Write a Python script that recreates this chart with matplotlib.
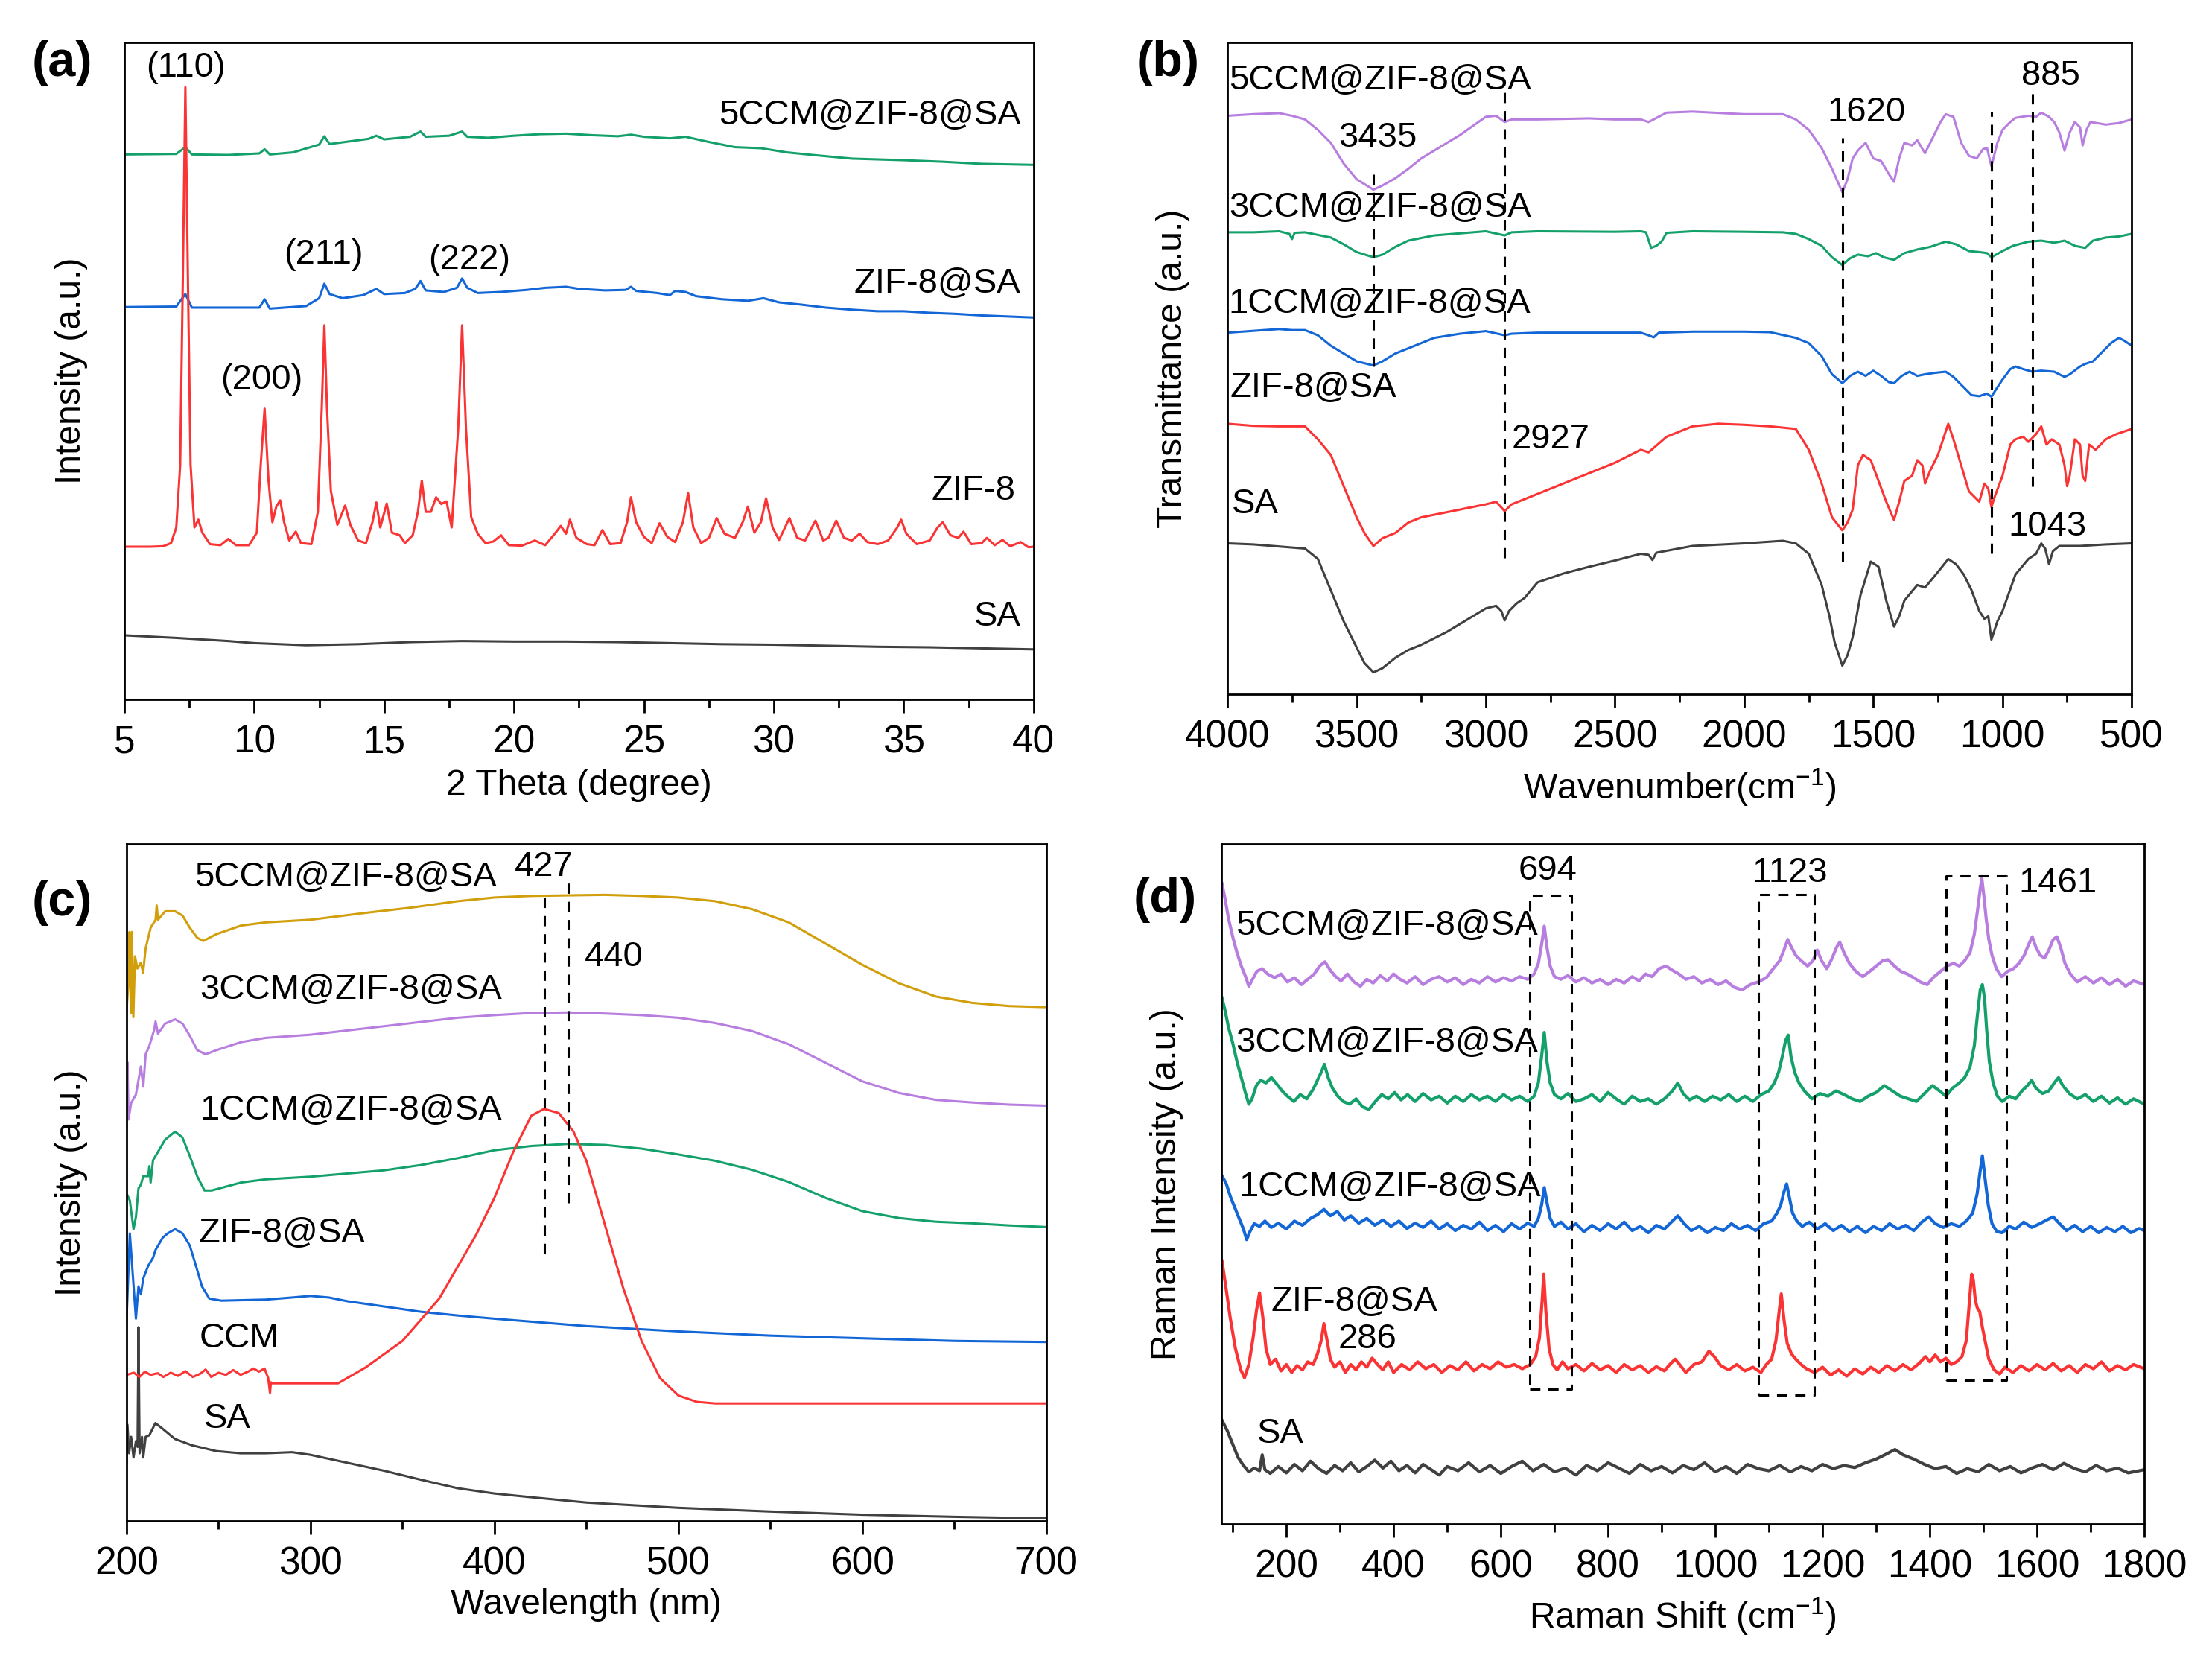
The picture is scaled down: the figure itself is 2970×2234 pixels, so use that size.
import matplotlib

matplotlib.use("Agg")
import matplotlib.pyplot as plt
import numpy as np
from matplotlib.ticker import MultipleLocator

plt.rcParams["font.family"] = ["Liberation Sans", "DejaVu Sans"]
plt.rcParams["mathtext.fontset"] = "custom"
plt.rcParams["mathtext.rm"] = "Liberation Sans"
plt.rcParams["mathtext.default"] = "regular"

BLACK = "#404040"
RED = "#fa3434"
BLUE = "#1366d6"
GREEN = "#14a06a"
PURPLE = "#b77ddf"
GOLD = "#d19e0c"

# ---------------- (a) XRD: (2theta, intensity a.u.) ----------------
xrd_sa = [(5, 123), (7, 118), (9, 112), (10, 108), (12, 104), (14, 106), (16, 110),
          (18, 112), (20, 111), (22, 111), (24, 110), (26, 108), (28, 106), (30, 105),
          (32, 103), (34, 101), (36, 100), (38, 98), (40, 96)]
xrd_zif8 = [(5.0, 293), (6.0, 293), (6.5, 294), (6.8, 300), (7.0, 330), (7.15, 450),
            (7.25, 800), (7.35, 1175), (7.45, 800), (7.55, 450), (7.7, 330), (7.85, 345),
            (8.0, 320), (8.3, 298), (8.7, 296), (9.0, 308), (9.3, 296), (9.8, 296),
            (10.1, 320), (10.25, 450), (10.4, 558), (10.55, 420), (10.7, 340), (10.85, 370),
            (11.0, 382), (11.15, 340), (11.35, 305), (11.6, 322), (11.8, 300), (12.2, 298),
            (12.45, 360), (12.6, 560), (12.7, 718), (12.8, 560), (12.95, 400), (13.2, 335),
            (13.5, 372), (13.7, 335), (14.0, 305), (14.3, 300), (14.55, 340), (14.7, 378),
            (14.85, 330), (15.1, 376), (15.3, 320), (15.6, 315), (15.8, 300), (16.1, 315),
            (16.3, 360), (16.45, 420), (16.6, 360), (16.8, 360), (17.0, 388), (17.2, 375),
            (17.4, 380), (17.6, 330), (17.85, 520), (18.0, 718), (18.15, 520), (18.35, 350),
            (18.6, 318), (18.9, 300), (19.2, 303), (19.5, 315), (19.8, 296), (20.3, 295),
            (20.8, 305), (21.2, 296), (21.6, 320), (21.8, 333), (22.0, 318), (22.15, 345),
            (22.4, 310), (22.8, 298), (23.1, 296), (23.4, 325), (23.7, 298), (24.1, 300),
            (24.35, 340), (24.5, 388), (24.7, 340), (25.0, 312), (25.3, 300), (25.6, 338),
            (25.9, 312), (26.2, 302), (26.5, 340), (26.7, 396), (26.9, 330), (27.2, 300),
            (27.5, 310), (27.8, 348), (28.1, 318), (28.5, 310), (28.8, 340), (29.0, 370),
            (29.25, 320), (29.5, 340), (29.7, 386), (29.95, 330), (30.2, 306), (30.6, 348),
            (30.9, 310), (31.2, 305), (31.6, 343), (31.9, 305), (32.1, 310), (32.4, 343),
            (32.7, 310), (33.0, 305), (33.3, 318), (33.6, 302), (34.0, 298), (34.4, 305),
            (34.75, 330), (34.9, 345), (35.1, 318), (35.5, 298), (36.0, 305), (36.3, 330),
            (36.5, 340), (36.8, 315), (37.1, 310), (37.3, 322), (37.6, 298), (38.0, 300),
            (38.2, 310), (38.5, 296), (38.8, 306), (39.1, 294), (39.5, 302), (39.8, 292),
            (40.0, 293)]
xrd_zif8_sa = [(5, 753), (7.0, 754), (7.35, 778), (7.6, 752), (10.2, 752), (10.4, 768),
               (10.6, 750), (12.0, 755), (12.5, 770), (12.7, 798), (12.9, 778), (13.4, 770),
               (14.2, 776), (14.7, 788), (15.0, 778), (15.8, 780), (16.2, 788), (16.4, 803),
               (16.6, 785), (17.3, 782), (17.8, 790), (18.0, 808), (18.2, 790), (18.6, 780),
               (19.5, 782), (20.5, 786), (21.2, 790), (22.0, 792), (22.5, 788), (23.5, 785),
               (24.3, 786), (24.5, 792), (24.7, 784), (25.5, 780), (26.0, 776), (26.2, 784),
               (26.6, 782), (27.0, 774), (28.0, 768), (29.0, 765), (29.6, 770), (30.2, 762),
               (31.0, 758), (32.0, 752), (33.0, 748), (34.0, 745), (35.0, 745), (36.0, 742),
               (37.0, 740), (38.0, 737), (39.0, 735), (40.0, 733)]
xrd_5ccm = [(5, 1046), (7.0, 1047), (7.35, 1060), (7.6, 1046), (9, 1045), (10.2, 1048),
            (10.4, 1056), (10.6, 1046), (11.5, 1050), (12.5, 1065), (12.7, 1081), (12.9, 1066),
            (13.5, 1070), (14.4, 1076), (14.7, 1082), (15.0, 1075), (16.0, 1080), (16.4, 1090),
            (16.6, 1080), (17.5, 1082), (18.0, 1090), (18.2, 1080), (19.0, 1078), (20.0, 1082),
            (21.0, 1085), (22.0, 1086), (23.0, 1083), (24.0, 1081), (24.5, 1084), (25.0, 1080),
            (26.0, 1077), (26.6, 1080), (27.5, 1070), (28.5, 1060), (29.5, 1058), (30.5, 1050),
            (31.5, 1045), (33, 1038), (35, 1035), (36.5, 1032), (38, 1028), (40, 1026)]

# ---------------- (b) FTIR: (wavenumber, transmittance a.u.) ----------------
ir_sa = [(4000, 290), (3900, 288), (3800, 284), (3700, 280), (3650, 260), (3600, 200),
         (3550, 140), (3500, 90), (3470, 60), (3435, 42), (3400, 50), (3350, 70), (3300, 85),
         (3250, 95), (3150, 120), (3100, 135), (3000, 165), (2960, 170), (2940, 160),
         (2927, 142), (2910, 160), (2880, 175), (2850, 185), (2800, 215), (2700, 232),
         (2600, 245), (2500, 257), (2400, 270), (2370, 268), (2355, 258), (2340, 272),
         (2200, 285), (2000, 290), (1850, 295), (1800, 290), (1750, 270), (1700, 210),
         (1670, 150), (1650, 100), (1620, 55), (1600, 75), (1580, 110), (1550, 190),
         (1510, 255), (1480, 245), (1450, 180), (1420, 130), (1400, 150), (1380, 180),
         (1330, 210), (1300, 205), (1250, 235), (1210, 260), (1180, 250), (1150, 230),
         (1120, 200), (1090, 160), (1070, 145), (1055, 150), (1043, 105), (1020, 140),
         (1000, 160), (950, 230), (900, 260), (870, 270), (850, 290), (835, 280), (820, 250),
         (805, 275), (780, 285), (700, 285), (600, 288), (500, 290)]
ir_zif8_sa = [(4000, 520), (3900, 516), (3800, 515), (3700, 515), (3650, 490), (3600, 460),
              (3550, 400), (3500, 340), (3470, 310), (3435, 285), (3400, 300), (3350, 310),
              (3300, 330), (3250, 340), (3200, 345), (3100, 355), (3000, 365), (2960, 370),
              (2927, 352), (2900, 365), (2850, 375), (2800, 385), (2700, 405), (2600, 425),
              (2500, 445), (2400, 470), (2370, 465), (2300, 495), (2200, 515), (2100, 520),
              (2000, 518), (1900, 515), (1800, 510), (1750, 470), (1700, 405), (1660, 340),
              (1620, 315), (1600, 330), (1580, 355), (1560, 440), (1540, 460), (1510, 450),
              (1480, 410), (1450, 370), (1420, 335), (1400, 370), (1380, 410), (1350, 420),
              (1330, 450), (1310, 440), (1300, 405), (1280, 430), (1250, 460), (1210, 520),
              (1190, 490), (1160, 440), (1130, 390), (1110, 380), (1090, 370), (1070, 405),
              (1055, 395), (1043, 360), (1030, 380), (1000, 420), (970, 480), (950, 490),
              (920, 495), (900, 485), (870, 500), (850, 515), (830, 480), (810, 490),
              (780, 480), (760, 440), (750, 400), (740, 420), (720, 490), (700, 480),
              (690, 420), (680, 410), (665, 480), (640, 470), (600, 490), (560, 500),
              (500, 510)]
ir_1ccm = [(4000, 695), (3800, 702), (3750, 700), (3700, 700), (3650, 690), (3600, 670),
           (3550, 655), (3500, 640), (3435, 632), (3400, 640), (3350, 655), (3300, 665),
           (3200, 685), (3100, 693), (3000, 698), (2927, 690), (2900, 693), (2800, 695),
           (2600, 695), (2400, 695), (2370, 690), (2350, 686), (2330, 695), (2200, 697),
           (2000, 697), (1900, 696), (1800, 685), (1750, 675), (1700, 650), (1660, 615),
           (1620, 598), (1590, 612), (1560, 620), (1530, 612), (1500, 622), (1470, 612),
           (1440, 600), (1420, 598), (1390, 612), (1360, 620), (1330, 612), (1300, 615),
           (1260, 618), (1220, 620), (1190, 610), (1150, 590), (1120, 575), (1090, 573),
           (1060, 578), (1043, 572), (1020, 590), (1000, 605), (970, 625), (950, 630),
           (920, 625), (885, 620), (850, 622), (800, 620), (760, 610), (740, 615), (700, 630),
           (680, 635), (650, 640), (620, 655), (580, 675), (550, 685), (530, 680), (500, 670)]
ir_3ccm = [(4000, 888), (3900, 888), (3800, 890), (3760, 885), (3750, 875), (3740, 887),
           (3700, 888), (3600, 878), (3550, 865), (3500, 850), (3435, 840), (3400, 845),
           (3350, 860), (3300, 872), (3200, 882), (3100, 886), (3000, 890), (2927, 882),
           (2900, 888), (2800, 890), (2500, 889), (2400, 890), (2380, 888), (2360, 858),
           (2340, 862), (2320, 870), (2300, 887), (2200, 890), (2000, 889), (1850, 888),
           (1800, 885), (1750, 875), (1700, 862), (1660, 840), (1620, 825), (1590, 838),
           (1560, 845), (1520, 842), (1490, 848), (1460, 840), (1420, 835), (1380, 848),
           (1330, 855), (1280, 860), (1220, 870), (1180, 865), (1130, 852), (1090, 850),
           (1060, 848), (1043, 840), (1000, 852), (960, 862), (900, 870), (850, 872),
           (800, 868), (760, 872), (720, 862), (680, 858), (650, 872), (600, 878), (550, 880),
           (500, 885)]
ir_5ccm = [(4000, 1112), (3900, 1115), (3800, 1117), (3750, 1112), (3700, 1105), (3650, 1085),
           (3600, 1060), (3550, 1020), (3500, 990), (3435, 970), (3400, 978), (3350, 992),
           (3300, 1010), (3250, 1030), (3150, 1060), (3100, 1075), (3000, 1110), (2960, 1112),
           (2927, 1100), (2900, 1105), (2800, 1105), (2600, 1107), (2500, 1105), (2400, 1105),
           (2370, 1100), (2300, 1118), (2200, 1120), (2000, 1115), (1900, 1115), (1850, 1115),
           (1800, 1105), (1750, 1085), (1700, 1050), (1660, 1010), (1620, 965), (1600, 990),
           (1580, 1030), (1560, 1045), (1530, 1060), (1500, 1030), (1470, 1025), (1440, 1000),
           (1420, 985), (1400, 1030), (1380, 1060), (1350, 1055), (1330, 1065), (1300, 1040),
           (1270, 1070), (1240, 1100), (1220, 1115), (1190, 1110), (1160, 1060), (1130, 1035),
           (1100, 1030), (1075, 1048), (1060, 1050), (1043, 1015), (1020, 1060), (1000, 1085),
           (970, 1100), (950, 1108), (900, 1112), (870, 1110), (850, 1118), (820, 1110),
           (800, 1100), (780, 1080), (760, 1045), (740, 1080), (720, 1100), (700, 1090),
           (690, 1055), (675, 1085), (660, 1100), (600, 1095), (550, 1098), (500, 1105)]
ir_marks = [(3435, 630, 1000), (2927, 262, 1170), (1620, 255, 1070), (1043, 270, 1120),
            (885, 400, 1160)]

# ---------------- (c) UV-Vis: (wavelength, intensity a.u.) ----------------
uv_sa = [(199.6, 66), (200.5, 182), (201.4, 128), (202.5, 159), (203.8, 120), (205.1, 151),
         (206.0, 140), (206.5, 366), (207.1, 128), (208.4, 159), (209.1, 120), (210.4, 159),
         (212.4, 162), (215.7, 185), (219.7, 174), (226.3, 155), (235.6, 143), (248.9, 132),
         (262, 128), (275.5, 128), (290, 130), (300, 125), (320, 110), (340, 95), (360, 78),
         (380, 62), (400, 52), (420, 45), (450, 35), (500, 25), (550, 18), (600, 12),
         (650, 8), (700, 5)]
uv_ccm = [(200, 276), (204, 280), (207, 272), (210, 282), (213, 276), (217, 279), (220, 272),
          (224, 280), (228, 274), (232, 283), (236, 272), (240, 278), (243, 286), (246, 272),
          (250, 280), (254, 276), (258, 285), (262, 276), (266, 282), (269, 288), (272, 282),
          (275, 288), (277, 270), (278, 242), (278.5, 262), (279, 260), (315, 260), (330, 290),
          (350, 340), (370, 420), (390, 540), (400, 610), (410, 695), (420, 765), (427, 778),
          (435, 770), (443, 735), (450, 680), (460, 560), (470, 440), (480, 340), (490, 270),
          (500, 237), (510, 225), (520, 222), (700, 222)]
uv_zif8_sa = [(199.8, 358), (201.8, 543), (203.5, 460), (205.1, 382), (206.5, 443),
              (207.8, 428), (209.1, 458), (211.8, 482), (214.4, 497), (215.8, 512),
              (219.7, 535), (222.4, 543), (226.4, 551), (230.4, 543), (234.4, 520),
              (238.4, 474), (241, 443), (245, 420), (251.6, 416), (275.6, 418), (290, 422),
              (300, 425), (310, 422), (320, 415), (340, 405), (360, 395), (380, 388),
              (400, 382), (450, 368), (500, 358), (550, 350), (600, 345), (650, 340),
              (700, 338)]
uv_1ccm = [(199.8, 620), (201.8, 605), (203.8, 551), (205.1, 574), (206.5, 628), (207.8, 635),
           (209.1, 651), (211.8, 651), (212.4, 670), (213.1, 639), (214.4, 681), (217.1, 697),
           (221.0, 720), (226.4, 735), (230.4, 724), (234.4, 689), (238.4, 651), (242.4, 624),
           (246.3, 624), (262.3, 639), (275.6, 645), (300, 650), (320, 656), (340, 662),
           (360, 672), (380, 685), (400, 700), (420, 708), (440, 712), (460, 710), (480, 703),
           (500, 692), (520, 680), (540, 663), (560, 640), (580, 610), (600, 585), (620, 572),
           (640, 565), (660, 562), (680, 558), (700, 555)]
uv_3ccm = [(199.8, 712), (200.5, 866), (201.1, 758), (202.5, 789), (205.1, 805), (207.8, 858),
           (209.1, 820), (210.4, 881), (212.4, 897), (215.1, 928), (215.8, 943), (217.1, 920),
           (221.0, 939), (226.4, 947), (230.4, 939), (234.4, 916), (238.4, 889), (243.0, 881),
           (249.0, 889), (262.3, 904), (275.6, 912), (300, 918), (330, 930), (355, 940),
           (380, 950), (400, 955), (420, 959), (440, 960), (460, 958), (480, 955), (500, 950),
           (520, 940), (540, 925), (560, 900), (580, 865), (600, 830), (620, 808), (640, 795),
           (660, 790), (680, 786), (700, 784)]
uv_5ccm = [(199.8, 951), (201.1, 1020), (201.6, 1112), (202.4, 958), (202.9, 1112),
           (203.7, 951), (204.6, 1066), (205.9, 1043), (207.8, 1054), (209.0, 1035),
           (210.4, 1081), (213.1, 1120), (215.8, 1135), (216.4, 1162), (217.1, 1135),
           (221.0, 1151), (226.4, 1151), (230.4, 1143), (234.4, 1120), (238.4, 1101),
           (241.7, 1095), (249.0, 1108), (262.3, 1124), (275.6, 1130), (300, 1135),
           (330, 1148), (355, 1158), (380, 1170), (400, 1177), (420, 1180), (440, 1181),
           (460, 1182), (480, 1180), (500, 1177), (520, 1170), (540, 1155), (560, 1130),
           (580, 1090), (600, 1050), (620, 1015), (640, 990), (660, 978), (680, 972),
           (700, 970)]
uv_marks = [(427, 505, 1180), (440, 600, 1205)]

# ---------------- (d) Raman: (shift, intensity a.u.) ----------------
raman_sa = [(80, 195), (90, 175), (100, 150), (110, 125), (120, 110), (130, 98), (140, 105),
            (150, 100), (155, 130), (160, 102), (170, 95), (185, 108), (200, 96), (215, 112),
            (230, 100), (245, 118), (260, 104), (275, 95), (290, 110), (305, 100), (320, 115),
            (335, 98), (350, 108), (365, 120), (380, 105), (395, 118), (410, 100), (425, 110),
            (440, 96), (455, 112), (470, 102), (485, 92), (500, 108), (520, 100), (540, 115),
            (560, 98), (580, 110), (600, 95), (620, 108), (640, 118), (660, 100), (680, 112),
            (700, 98), (720, 105), (740, 92), (760, 110), (780, 100), (800, 115), (820, 105),
            (840, 95), (860, 112), (880, 100), (900, 108), (920, 96), (940, 110), (960, 102),
            (980, 115), (1000, 98), (1020, 108), (1040, 95), (1060, 112), (1080, 104),
            (1100, 100), (1120, 110), (1140, 98), (1160, 108), (1180, 100), (1200, 112),
            (1220, 104), (1240, 110), (1260, 106), (1280, 115), (1300, 122), (1320, 132),
            (1335, 140), (1350, 130), (1370, 122), (1390, 112), (1410, 104), (1430, 108),
            (1450, 95), (1470, 104), (1490, 98), (1510, 112), (1530, 100), (1550, 108),
            (1570, 96), (1590, 105), (1610, 112), (1630, 102), (1650, 114), (1670, 104),
            (1690, 98), (1710, 110), (1730, 100), (1750, 105), (1770, 96), (1800, 102)]
raman_zif8_sa = [(80, 495), (88, 440), (95, 390), (105, 330), (115, 290), (122, 275),
                 (130, 300), (138, 350), (144, 400), (150, 435), (156, 390), (162, 330),
                 (170, 300), (180, 310), (190, 288), (200, 300), (210, 285), (220, 298),
                 (230, 290), (240, 305), (250, 300), (258, 320), (265, 345), (270, 377),
                 (276, 345), (282, 310), (290, 295), (300, 305), (310, 285), (320, 300),
                 (330, 290), (340, 305), (350, 295), (360, 312), (370, 300), (380, 290),
                 (390, 305), (400, 285), (415, 300), (430, 290), (445, 305), (460, 292),
                 (475, 300), (490, 285), (505, 298), (520, 290), (535, 305), (550, 288),
                 (565, 300), (580, 292), (595, 305), (610, 295), (625, 300), (640, 292),
                 (655, 300), (665, 315), (672, 350), (677, 420), (680, 470), (684, 400),
                 (690, 330), (697, 300), (705, 290), (715, 305), (725, 292), (740, 300),
                 (755, 288), (770, 302), (785, 290), (800, 298), (815, 285), (830, 300),
                 (845, 290), (860, 298), (875, 285), (890, 296), (905, 288), (915, 300),
                 (925, 310), (935, 298), (945, 285), (960, 300), (975, 305), (988, 325),
                 (998, 315), (1010, 298), (1025, 290), (1040, 300), (1055, 288), (1070, 295),
                 (1085, 285), (1095, 300), (1105, 310), (1113, 345), (1119, 400), (1123, 433),
                 (1128, 385), (1134, 340), (1142, 320), (1150, 310), (1160, 300), (1170, 292),
                 (1185, 285), (1200, 295), (1215, 280), (1230, 290), (1245, 278), (1260, 292),
                 (1275, 282), (1290, 295), (1305, 285), (1320, 298), (1335, 288), (1350, 300),
                 (1365, 290), (1380, 302), (1392, 315), (1400, 305), (1410, 318), (1420, 305),
                 (1430, 312), (1440, 300), (1450, 305), (1460, 315), (1468, 345), (1474, 420),
                 (1478, 470), (1481, 460), (1485, 420), (1489, 405), (1493, 400), (1498, 370),
                 (1504, 340), (1510, 310), (1520, 290), (1530, 282), (1540, 295), (1555, 285),
                 (1570, 298), (1585, 288), (1600, 300), (1615, 290), (1630, 302), (1645, 288),
                 (1660, 298), (1675, 285), (1690, 300), (1705, 292), (1720, 305), (1735, 288),
                 (1750, 298), (1765, 290), (1780, 300), (1800, 292)]
raman_1ccm = [(80, 655), (88, 640), (96, 615), (104, 595), (112, 575), (120, 555), (126, 535),
              (132, 550), (140, 565), (150, 560), (160, 570), (172, 558), (185, 566), (200, 555),
              (215, 570), (230, 562), (245, 575), (258, 582), (270, 592), (282, 580), (295, 588),
              (308, 572), (320, 580), (335, 566), (350, 575), (365, 562), (380, 572), (395, 560),
              (410, 570), (425, 556), (440, 566), (455, 558), (470, 570), (485, 555), (500, 565),
              (515, 552), (530, 562), (545, 555), (560, 568), (575, 552), (590, 562), (605, 550),
              (620, 565), (635, 555), (650, 566), (662, 560), (670, 575), (676, 600), (681, 633),
              (686, 605), (692, 575), (700, 560), (712, 568), (725, 555), (740, 565), (755, 550),
              (770, 562), (785, 552), (800, 565), (815, 555), (830, 568), (845, 552), (860, 560),
              (875, 548), (890, 562), (905, 555), (918, 568), (930, 580), (942, 565), (955, 552),
              (970, 560), (985, 548), (1000, 558), (1015, 552), (1030, 565), (1045, 555),
              (1060, 562), (1075, 552), (1090, 565), (1105, 570), (1115, 585), (1122, 600),
              (1128, 625), (1133, 640), (1138, 615), (1144, 585), (1152, 570), (1162, 560),
              (1175, 568), (1190, 555), (1205, 565), (1220, 552), (1235, 562), (1250, 550),
              (1265, 560), (1280, 548), (1295, 560), (1310, 552), (1325, 565), (1340, 555),
              (1355, 562), (1370, 552), (1385, 568), (1398, 578), (1410, 565), (1425, 558),
              (1440, 565), (1455, 560), (1468, 570), (1480, 585), (1488, 620), (1494, 665),
              (1498, 693), (1503, 650), (1509, 600), (1516, 565), (1525, 550), (1535, 548),
              (1548, 560), (1560, 555), (1575, 568), (1590, 558), (1605, 565), (1618, 572),
              (1630, 578), (1642, 565), (1655, 552), (1670, 562), (1685, 550), (1700, 560),
              (1715, 548), (1730, 558), (1745, 550), (1760, 560), (1775, 548), (1790, 556),
              (1800, 552)]
raman_3ccm = [(80, 990), (86, 965), (92, 935), (100, 905), (108, 870), (116, 840), (124, 810),
              (130, 790), (136, 800), (144, 825), (152, 835), (162, 830), (172, 840), (182, 828),
              (192, 815), (202, 805), (214, 795), (226, 808), (238, 800), (250, 818), (258, 835),
              (265, 850), (271, 865), (278, 840), (286, 820), (296, 805), (306, 795), (318, 790),
              (330, 800), (342, 785), (354, 780), (366, 795), (378, 808), (390, 800), (402, 812),
              (414, 798), (426, 808), (440, 795), (455, 810), (470, 798), (485, 805), (500, 792),
              (515, 805), (530, 795), (545, 808), (560, 798), (575, 805), (590, 795), (605, 808),
              (620, 798), (635, 805), (650, 795), (662, 805), (670, 830), (676, 880), (681, 925),
              (686, 870), (692, 830), (700, 808), (712, 800), (725, 810), (740, 795), (755, 800),
              (770, 808), (785, 795), (800, 812), (815, 800), (830, 790), (845, 805), (860, 795),
              (875, 800), (890, 790), (905, 800), (920, 815), (930, 830), (940, 810), (952, 798),
              (965, 805), (980, 795), (995, 805), (1010, 798), (1025, 808), (1040, 795),
              (1055, 805), (1070, 795), (1085, 808), (1100, 815), (1110, 830), (1118, 850),
              (1125, 880), (1131, 910), (1136, 920), (1141, 880), (1148, 850), (1156, 830),
              (1166, 815), (1180, 800), (1195, 810), (1210, 805), (1225, 815), (1240, 808),
              (1255, 800), (1270, 795), (1285, 805), (1300, 812), (1315, 825), (1330, 815),
              (1345, 805), (1360, 800), (1375, 795), (1390, 810), (1405, 825), (1418, 815),
              (1430, 805), (1442, 820), (1455, 830), (1465, 840), (1475, 860), (1483, 900),
              (1489, 960), (1494, 1005), (1498, 1015), (1502, 990), (1506, 930), (1511, 870),
              (1518, 830), (1526, 805), (1535, 795), (1548, 805), (1560, 800), (1572, 815),
              (1582, 825), (1590, 835), (1598, 820), (1610, 810), (1622, 815), (1632, 830),
              (1640, 840), (1648, 825), (1660, 810), (1675, 800), (1690, 808), (1705, 795),
              (1720, 805), (1735, 792), (1750, 802), (1765, 790), (1780, 800), (1800, 790)]
raman_5ccm = [(80, 1205), (86, 1175), (92, 1140), (100, 1105), (108, 1075), (116, 1050),
              (124, 1030), (130, 1012), (137, 1025), (145, 1040), (155, 1045), (165, 1035),
              (178, 1028), (190, 1035), (202, 1020), (215, 1028), (228, 1015), (240, 1025),
              (252, 1035), (262, 1050), (272, 1058), (282, 1042), (292, 1030), (302, 1022),
              (314, 1035), (326, 1020), (338, 1012), (350, 1025), (362, 1018), (375, 1032),
              (388, 1022), (400, 1035), (412, 1025), (425, 1018), (440, 1030), (455, 1015),
              (470, 1025), (485, 1030), (500, 1020), (515, 1028), (530, 1015), (545, 1025),
              (560, 1018), (575, 1030), (590, 1020), (605, 1028), (620, 1022), (635, 1030),
              (650, 1025), (662, 1035), (670, 1055), (676, 1090), (681, 1125), (686, 1085),
              (692, 1050), (700, 1030), (712, 1025), (725, 1032), (740, 1020), (755, 1028),
              (770, 1018), (785, 1025), (800, 1015), (815, 1025), (830, 1018), (845, 1030),
              (858, 1022), (870, 1035), (882, 1030), (895, 1045), (908, 1050), (920, 1042),
              (932, 1035), (945, 1025), (960, 1030), (975, 1018), (990, 1025), (1005, 1015),
              (1020, 1022), (1035, 1010), (1050, 1005), (1065, 1015), (1080, 1020), (1095, 1028),
              (1108, 1045), (1120, 1060), (1128, 1080), (1135, 1100), (1142, 1085), (1150, 1070),
              (1160, 1060), (1172, 1050), (1182, 1060), (1190, 1080), (1198, 1060), (1208, 1045),
              (1218, 1065), (1226, 1085), (1232, 1095), (1240, 1075), (1250, 1055), (1262, 1040),
              (1275, 1030), (1288, 1040), (1300, 1050), (1312, 1060), (1322, 1062), (1334, 1050),
              (1346, 1040), (1358, 1035), (1370, 1028), (1382, 1020), (1395, 1015), (1408, 1030),
              (1420, 1040), (1432, 1050), (1444, 1055), (1455, 1050), (1465, 1060), (1475, 1075),
              (1483, 1110), (1489, 1155), (1494, 1195), (1497, 1215), (1501, 1180), (1505, 1140),
              (1510, 1100), (1516, 1070), (1524, 1045), (1534, 1030), (1545, 1040), (1556, 1045),
              (1566, 1055), (1576, 1070), (1584, 1090), (1591, 1105), (1598, 1085), (1606, 1070),
              (1614, 1065), (1622, 1080), (1630, 1100), (1637, 1105), (1644, 1085), (1652, 1055),
              (1662, 1035), (1675, 1020), (1690, 1030), (1705, 1018), (1720, 1028), (1735, 1015),
              (1750, 1025), (1765, 1012), (1780, 1022), (1800, 1015)]
# dashed boxes: (x0, x1, y0, y1)
raman_boxes = [(654, 732, 253, 1183), (1080, 1185, 243, 1185), (1431, 1543, 270, 1220)]

TICK_SIZE = 18.5
TEXT_SIZE = 17
LABEL_SIZE = 17.3
DASH = (0, (4.5, 3.5))


def style_axes(ax, xlim, ylim, major, minor):
    ax.set_xlim(*xlim)
    ax.set_ylim(*ylim)
    ax.xaxis.set_major_locator(MultipleLocator(major))
    ax.xaxis.set_minor_locator(MultipleLocator(minor))
    ax.set_yticks([])
    ax.tick_params(axis="x", which="major", direction="out", length=6.6, width=1.0,
                   pad=5.5, labelsize=TICK_SIZE)
    ax.tick_params(axis="x", which="minor", direction="out", length=3.8, width=1.0)
    for spine in ax.spines.values():
        spine.set_linewidth(1.0)


def draw_curve(ax, pairs, color, lw=1.1):
    data = np.array(pairs, dtype=float)
    ax.plot(data[:, 0], data[:, 1], color=color, lw=lw)


def put(ax, x, y, text, ha="left"):
    ax.text(x, y, text, ha=ha, va="center", fontsize=TEXT_SIZE)


def set_labels(ax, xlabel, ylabel, xpos, ypos):
    ax.set_xlabel(xlabel, fontsize=LABEL_SIZE)
    ax.set_ylabel(ylabel, fontsize=LABEL_SIZE)
    ax.xaxis.set_label_coords(0.5, xpos)
    ax.yaxis.set_label_coords(ypos, 0.5)


fig = plt.figure(figsize=(14.85, 11.17), dpi=200)

# (a)
ax_a = fig.add_axes([0.0562, 0.5797, 0.4111, 0.3948])
style_axes(ax_a, (5, 40), (0, 1261), 5, 2.5)
draw_curve(ax_a, xrd_sa, BLACK)
draw_curve(ax_a, xrd_zif8_sa, BLUE)
draw_curve(ax_a, xrd_5ccm, GREEN)
draw_curve(ax_a, xrd_zif8, RED)
put(ax_a, 7.36, 1213, "(110)", ha="center")
put(ax_a, 12.68, 853, "(211)", ha="center")
put(ax_a, 18.29, 843, "(222)", ha="center")
put(ax_a, 10.29, 613, "(200)", ha="center")
put(ax_a, 39.5, 1121, "5CCM@ZIF-8@SA", ha="right")
put(ax_a, 39.5, 798, "ZIF-8@SA", ha="right")
put(ax_a, 39.3, 400, "ZIF-8", ha="right")
put(ax_a, 39.5, 158, "SA", ha="right")
set_labels(ax_a, "2 Theta (degree)", "Intensity (a.u.)", -0.106, -0.040)

# (b)
ax_b = fig.add_axes([0.5549, 0.5828, 0.4088, 0.3917])
style_axes(ax_b, (4000, 500), (0, 1253), 500, 250)
draw_curve(ax_b, ir_sa, BLACK)
draw_curve(ax_b, ir_zif8_sa, RED)
draw_curve(ax_b, ir_1ccm, BLUE)
draw_curve(ax_b, ir_3ccm, GREEN)
draw_curve(ax_b, ir_5ccm, PURPLE)
for x, y0, y1 in ir_marks:
    ax_b.plot([x, x], [y0, y1], color="black", lw=1.1, ls=DASH)
put(ax_b, 3995, 1180, "5CCM@ZIF-8@SA")
put(ax_b, 3419, 1070, "3435", ha="center")
put(ax_b, 1528, 1118, "1620", ha="center")
put(ax_b, 814, 1188, "885", ha="center")
put(ax_b, 3995, 935, "3CCM@ZIF-8@SA")
put(ax_b, 3995, 750, "1CCM@ZIF-8@SA")
put(ax_b, 3990, 588, "ZIF-8@SA")
put(ax_b, 2901, 490, "2927")
put(ax_b, 3984, 365, "SA")
put(ax_b, 827, 322, "1043", ha="center")
set_labels(ax_b, "Wavenumber(cm$^{-1}$)", "Transmittance (a.u.)", -0.112, -0.042)

# (c)
ax_c = fig.add_axes([0.0572, 0.0859, 0.4158, 0.4069])
style_axes(ax_c, (200, 700), (0, 1278), 100, 50)
draw_curve(ax_c, uv_sa, BLACK)
draw_curve(ax_c, uv_zif8_sa, BLUE)
draw_curve(ax_c, uv_1ccm, GREEN)
draw_curve(ax_c, uv_3ccm, PURPLE)
draw_curve(ax_c, uv_5ccm, GOLD)
draw_curve(ax_c, uv_ccm, RED)
for x, y0, y1 in uv_marks:
    ax_c.plot([x, x], [y0, y1], color="black", lw=1.1, ls=DASH)
put(ax_c, 237, 1215, "5CCM@ZIF-8@SA")
put(ax_c, 427, 1235, "427", ha="center")
put(ax_c, 449, 1065, "440")
put(ax_c, 239.7, 1003, "3CCM@ZIF-8@SA")
put(ax_c, 239.7, 775, "1CCM@ZIF-8@SA")
put(ax_c, 239, 543, "ZIF-8@SA")
put(ax_c, 239.7, 345, "CCM")
put(ax_c, 242, 193, "SA")
set_labels(ax_c, "Wavelength (nm)", "Intensity (a.u.)", -0.099, -0.042)

# (d)
ax_d = fig.add_axes([0.5522, 0.0842, 0.4172, 0.4087])
style_axes(ax_d, (79, 1800), (0, 1280), 200, 100)
draw_curve(ax_d, raman_sa, BLACK, lw=1.5)
draw_curve(ax_d, raman_zif8_sa, RED, lw=1.5)
draw_curve(ax_d, raman_1ccm, BLUE, lw=1.5)
draw_curve(ax_d, raman_3ccm, GREEN, lw=1.5)
draw_curve(ax_d, raman_5ccm, PURPLE, lw=1.5)
for x0, x1, y0, y1 in raman_boxes:
    ax_d.plot([x0, x1, x1, x0, x0], [y0, y0, y1, y1, y0], color="black", lw=1.1, ls=DASH)
put(ax_d, 688, 1230, "694", ha="center")
put(ax_d, 1139, 1225, "1123", ha="center")
put(ax_d, 1639, 1205, "1461", ha="center")
put(ax_d, 105, 1125, "5CCM@ZIF-8@SA")
put(ax_d, 105, 905, "3CCM@ZIF-8@SA")
put(ax_d, 112, 633, "1CCM@ZIF-8@SA")
put(ax_d, 171, 417, "ZIF-8@SA")
put(ax_d, 296, 347, "286")
put(ax_d, 145, 170, "SA")
set_labels(ax_d, "Raman Shift (cm$^{-1}$)", "Raman Intensity (a.u.)", -0.106, -0.041)

for label, x, y in [("(a)", 0.028, 0.962), ("(b)", 0.528, 0.962),
                    ("(c)", 0.028, 0.4575), ("(d)", 0.5266, 0.4593)]:
    fig.text(x, y, label, fontsize=24, fontweight="bold", ha="center", va="center")

fig.savefig("out.png", dpi=200)
